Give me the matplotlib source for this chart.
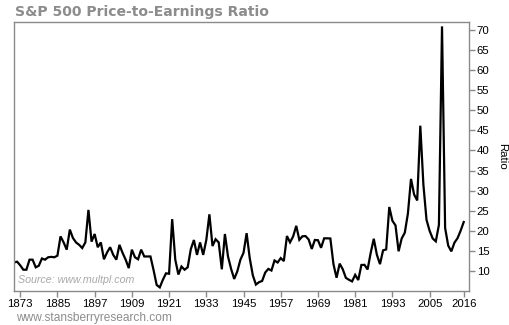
import numpy as np
import matplotlib
matplotlib.use("Agg")
import matplotlib.pyplot as plt

start_year = 1871
pe_ratio = [
    12.1, 12.3, 11.4, 10.3, 10.3, 12.8, 12.8, 10.9, 11.3, 13.1,   # 1871-1880
    12.8, 13.4, 13.5, 13.4, 13.8, 18.6, 17.1, 15.3, 20.3, 18.2,   # 1881-1890
    17.1, 16.5, 15.7, 17.1, 25.2, 17.3, 19.2, 15.9, 17.1, 12.9,   # 1891-1900
    14.6, 15.9, 14.0, 12.8, 16.5, 14.5, 12.8, 10.7, 15.3, 13.4,   # 1901-1910
    12.9, 15.3, 13.6, 13.6, 13.6, 10.2, 6.5, 5.9, 7.8, 9.4,       # 1911-1920
    9.3, 22.9, 12.8, 9.1, 11.1, 10.3, 10.9, 15.4, 17.7, 14.0,     # 1921-1930
    17.1, 14.0, 17.7, 24.1, 16.2, 17.9, 17.1, 10.4, 19.2, 13.6,   # 1931-1940
    10.5, 8.0, 9.9, 12.8, 14.5, 19.4, 13.2, 8.9, 6.6, 7.2,        # 1941-1950
    7.5, 9.6, 10.5, 10.1, 12.6, 12.1, 13.2, 12.45, 18.69, 17.12,  # 1951-1960
    18.6, 21.23, 17.75, 18.63, 18.68, 17.83, 15.47, 17.71, 17.65, 15.76,  # 1961-1970
    18.12, 18.12, 18.08, 11.68, 8.30, 11.82, 10.41, 8.28, 7.79, 7.39,     # 1971-1980
    9.02, 7.73, 11.48, 11.52, 10.36, 14.48, 18.01, 14.02, 11.69, 15.13,   # 1981-1990
    15.35, 25.93, 22.50, 21.34, 14.89, 18.08, 19.53, 24.29, 32.92, 29.04, # 1991-2000
    27.55, 46.17, 31.43, 22.73, 19.99, 18.07, 17.36, 21.46, 70.91, 20.70, # 2001-2010
    16.30, 14.87, 17.03, 18.15, 20.02, 22.18,                             # 2011-2016
]
years = np.arange(start_year, start_year + len(pe_ratio))

x_ticks = [1873, 1885, 1897, 1909, 1921, 1933, 1945, 1957, 1969, 1981, 1993, 2005, 2016]
y_ticks = [10, 15, 20, 25, 30, 35, 40, 45, 50, 55, 60, 65, 70]

title = "S&P 500 Price-to-Earnings Ratio"
source = "Source: www.multpl.com"
footer = "www.stansberryresearch.com"

W, H = 510, 325
fig = plt.figure(figsize=(W / 100, H / 100), dpi=100)
fig.patch.set_facecolor("white")
ax = fig.add_axes([14 / W, 1 - 291 / H, (469 - 14) / W, (291 - 22) / H])

ax.plot(years, pe_ratio, color="black", lw=1.6, solid_joinstyle="miter")

ax.set_xlim(1871, 2017.7)
ax.set_ylim(5, 72)
ax.set_xticks(x_ticks)
ax.set_xticklabels([str(t) for t in x_ticks])
ax.set_yticks(y_ticks)
ax.yaxis.tick_right()
ax.yaxis.set_label_position("right")

spine_col = "#8a8a8a"
for s in ax.spines.values():
    s.set_color(spine_col)
    s.set_linewidth(1.0)

ax.tick_params(axis="both", colors=spine_col, labelcolor="black", length=4, width=1)
ax.tick_params(axis="y", pad=1.5)
ax.tick_params(axis="x", pad=2)
for lab in ax.get_xticklabels() + ax.get_yticklabels():
    lab.set_fontfamily(["Liberation Sans", "DejaVu Sans"])
    lab.set_fontsize(8.2)

ax.set_ylabel("Ratio", rotation=270, labelpad=13, fontsize=8.2,
              family=["Liberation Sans", "DejaVu Sans"], color="black")

ax.text(0.009, 0.022, source, transform=ax.transAxes, fontsize=7.7, style="italic",
        color="#a8a8a8", family=["Liberation Sans", "DejaVu Sans"], ha="left", va="bottom")

fig.text(15 / W, 1 - 12 / H, title, fontsize=10.1, fontweight="bold", color="#8c8c8c",
         family=["DejaVu Sans"], ha="left", va="center")
fig.text(16 / W, 1 - 318 / H, footer, fontsize=8.6, color="#8c8c8c",
         family=["Liberation Sans", "DejaVu Sans"], ha="left", va="center")

fig.savefig("out.png", dpi=100)
